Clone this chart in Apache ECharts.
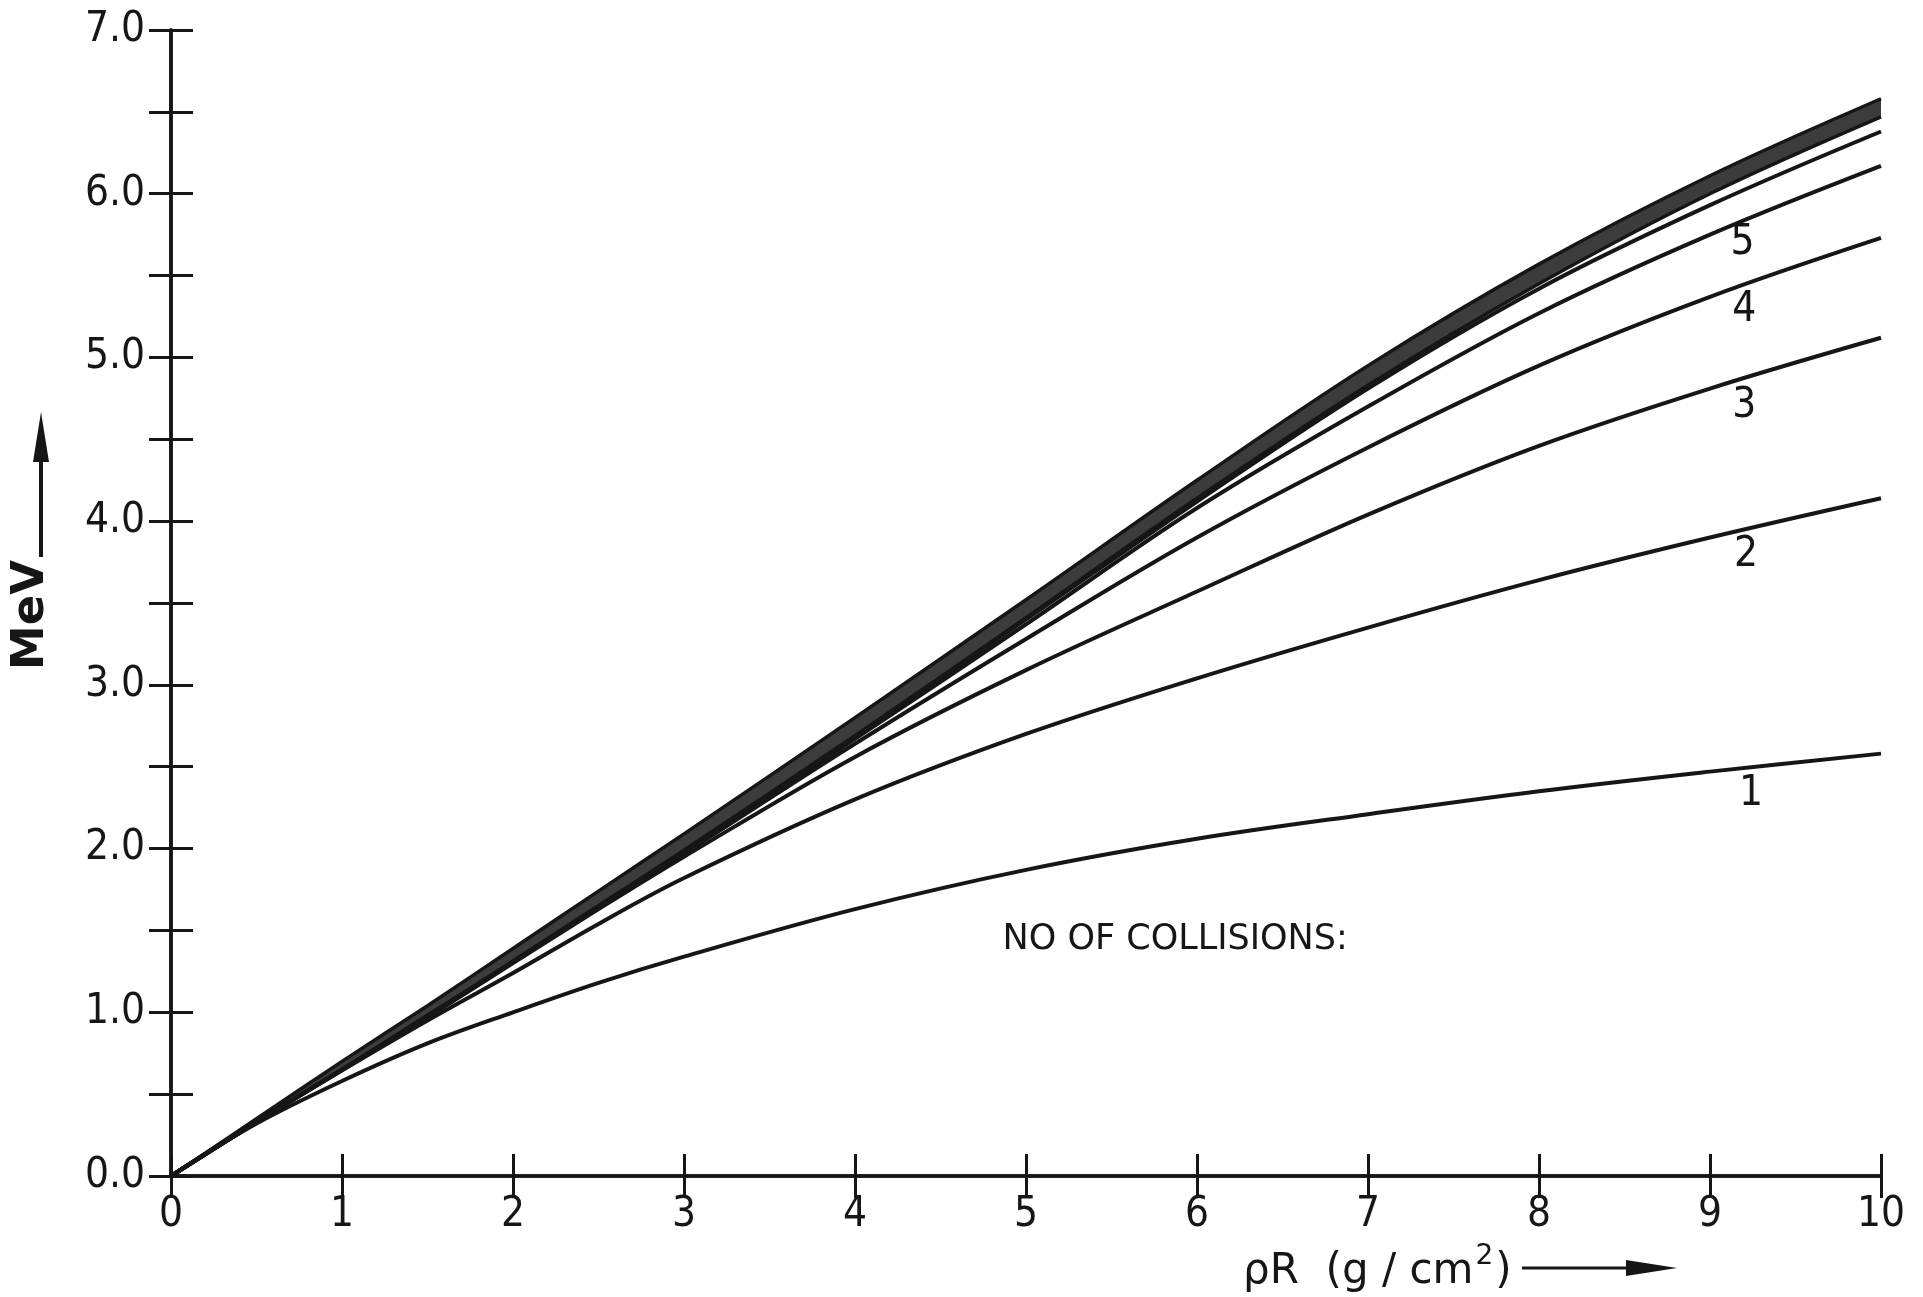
<!DOCTYPE html>
<html>
<head>
<meta charset="utf-8">
<title>MeV vs rhoR</title>
<script src="https://cdn.jsdelivr.net/npm/echarts@6.0.0/dist/echarts.min.js"></script>
<style>
  html, body { margin: 0; padding: 0; background: #fff; }
  #chart { width: 1923px; height: 1297px; }
</style>
</head>
<body>
<div id="chart"></div>
<script>
const rhoR = [0, 0.5, 1, 1.5, 2, 2.5, 3, 4, 5, 6, 7, 8, 9, 10];

// MeV for 1..6 collisions
const coll1 = [0, 0.32, 0.58, 0.81, 1.00, 1.18, 1.34, 1.63, 1.87, 2.06, 2.21, 2.35, 2.47, 2.58];
const coll2 = [0, 0.33, 0.645, 0.95, 1.24, 1.54, 1.82, 2.30, 2.70, 3.04, 3.35, 3.64, 3.90, 4.14];
const coll3 = [0, 0.33, 0.645, 0.97, 1.30, 1.63, 1.95, 2.56, 3.09, 3.57, 4.04, 4.46, 4.81, 5.12];
const coll4 = [0, 0.33, 0.65, 0.975, 1.305, 1.64, 1.97, 2.64, 3.28, 3.90, 4.45, 4.95, 5.37, 5.73];
const coll5 = [0, 0.33, 0.65, 0.975, 1.31, 1.645, 1.98, 2.67, 3.37, 4.08, 4.70, 5.27, 5.75, 6.17];
const coll6 = [0, 0.33, 0.65, 0.98, 1.31, 1.65, 1.985, 2.685, 3.40, 4.12, 4.81, 5.42, 5.93, 6.38];
// dark band on top (many collisions): lower and upper edge
const bandLow = [0, 0.33, 0.65, 0.98, 1.31, 1.65, 1.99, 2.69, 3.41, 4.14, 4.83, 5.45, 6.00, 6.47];
const bandHigh = [0, 0.35, 0.70, 1.04, 1.39, 1.74, 2.09, 2.80, 3.52, 4.25, 4.95, 5.57, 6.11, 6.58];

// numbers written under the curves, in data units
const curveNames = ['1', '2', '3', '4', '5'];
const curveNameX = [9.24, 9.21, 9.20, 9.20, 9.19];
const curveNameY = [2.33, 3.79, 4.70, 5.29, 5.70];
const noteText = 'NO OF COLLISIONS:';
const notePos = [4.86, 1.44];

const xMin = 0, xMax = 10, xStep = 1;
const yMin = 0, yMax = 7, yStep = 0.5;

const ink = '#161616';
const digitFont = '"Liberation Sans Narrow", "DejaVu Sans Condensed", "Liberation Sans", sans-serif';
const textFont = '"DejaVu Sans", "Liberation Sans", sans-serif';

const pairs = ys => rhoR.map((x, i) => [x, ys[i]]);

const chart = echarts.init(document.getElementById('chart'), null, { renderer: 'canvas' });

const tickStyle = { show: true, inside: true, length: 22, lineStyle: { color: ink, width: 3 } };
const lineStyle = { show: true, lineStyle: { color: ink, width: 3.5 } };

function curve(name, ys, width) {
  return {
    name, type: 'line', data: pairs(ys), smooth: 0.35, showSymbol: false,
    lineStyle: { color: ink, width: width || 4 }, z: 3, silent: true
  };
}

function axisCommon(extra) {
  return Object.assign({
    type: 'value', z: 10,
    axisLine: lineStyle, axisTick: tickStyle, splitLine: { show: false }
  }, extra);
}

function textSeries(name, points, label) {
  return {
    name, type: 'scatter', silent: true, z: 4, symbolSize: 1,
    itemStyle: { color: 'rgba(0,0,0,0)', opacity: 1 },
    data: points,
    label: Object.assign({ show: true, formatter: p => p.name, color: ink, opacity: 1 }, label)
  };
}

const option = {
  backgroundColor: '#fff',
  animation: false,
  grid: { left: 171, right: 42, top: 30, bottom: 121, containLabel: false },
  xAxis: [
    axisCommon({
      position: 'bottom', min: xMin, max: xMax, interval: xStep,
      axisLabel: { margin: 18, color: ink, fontSize: 42, fontFamily: digitFont }
    }),
    axisCommon({
      position: 'top', min: xMin, max: xMax, interval: xStep,
      axisLabel: { show: false }
    })
  ],
  yAxis: [
    axisCommon({
      position: 'left', min: yMin, max: yMax, interval: yStep,
      axisLabel: {
        margin: 26, color: ink, fontSize: 42, fontFamily: digitFont,
        formatter: v => (Math.abs(v - Math.round(v)) < 1e-6 ? v.toFixed(1) : '')
      }
    }),
    axisCommon({
      position: 'right', min: yMin, max: yMax, interval: yStep,
      axisLabel: { show: false }
    })
  ],
  series: [
    // band: dark fill under the upper edge, white fill under the lower edge
    {
      name: 'band high fill', type: 'line', data: pairs(bandHigh),
      smooth: 0.35, showSymbol: false, lineStyle: { width: 0 },
      areaStyle: { color: '#3c3c3c', opacity: 1, origin: 'start' }, z: 1, silent: true
    },
    {
      name: 'band low fill', type: 'line', data: pairs(bandLow),
      smooth: 0.35, showSymbol: false, lineStyle: { width: 0 },
      areaStyle: { color: '#ffffff', opacity: 1, origin: 'start' }, z: 1, silent: true
    },
    curve('band low', bandLow, 3.5),
    curve('band high', bandHigh, 3.5),
    curve('6', coll6),
    curve('5', coll5),
    curve('4', coll4),
    curve('3', coll3),
    curve('2', coll2),
    curve('1', coll1),
    textSeries('labels',
      curveNames.map((n, i) => ({ value: [curveNameX[i], curveNameY[i]], name: n })),
      { position: 'inside', fontSize: 42, fontFamily: digitFont }),
    textSeries('note', [{ value: notePos, name: noteText }],
      { position: 'right', distance: 0, fontSize: 35, fontFamily: textFont })
  ],
  graphic: [
    // y axis title with arrow
    {
      type: 'text', x: 31, y: 615, rotation: Math.PI / 2,
      style: { text: 'MeV', fill: ink, font: 'bold 45px ' + textFont, align: 'center', verticalAlign: 'middle' }
    },
    { type: 'line', shape: { x1: 41, y1: 557, x2: 41, y2: 450 }, style: { stroke: ink, lineWidth: 4 } },
    { type: 'polygon', shape: { points: [[33, 462], [41, 412], [49, 462]] }, style: { fill: ink } },
    // x axis title with arrow
    {
      type: 'text', x: 1243, y: 1268,
      style: {
        text: '{a|ρR  (g / cm}{s|2}{a|)}',
        align: 'left', verticalAlign: 'middle',
        rich: {
          a: { fill: ink, fontSize: 42, fontFamily: textFont, lineHeight: 50, verticalAlign: 'bottom' },
          s: { fill: ink, fontSize: 28, fontFamily: textFont, lineHeight: 50, verticalAlign: 'top', padding: [0, 2, 0, 2] }
        }
      }
    },
    { type: 'line', shape: { x1: 1522, y1: 1268, x2: 1640, y2: 1268 }, style: { stroke: ink, lineWidth: 3 } },
    { type: 'polygon', shape: { points: [[1626, 1260], [1677, 1268], [1626, 1276]] }, style: { fill: ink } }
  ]
};

chart.setOption(option);
window.addEventListener('resize', () => chart.resize());
</script>
</body>
</html>
